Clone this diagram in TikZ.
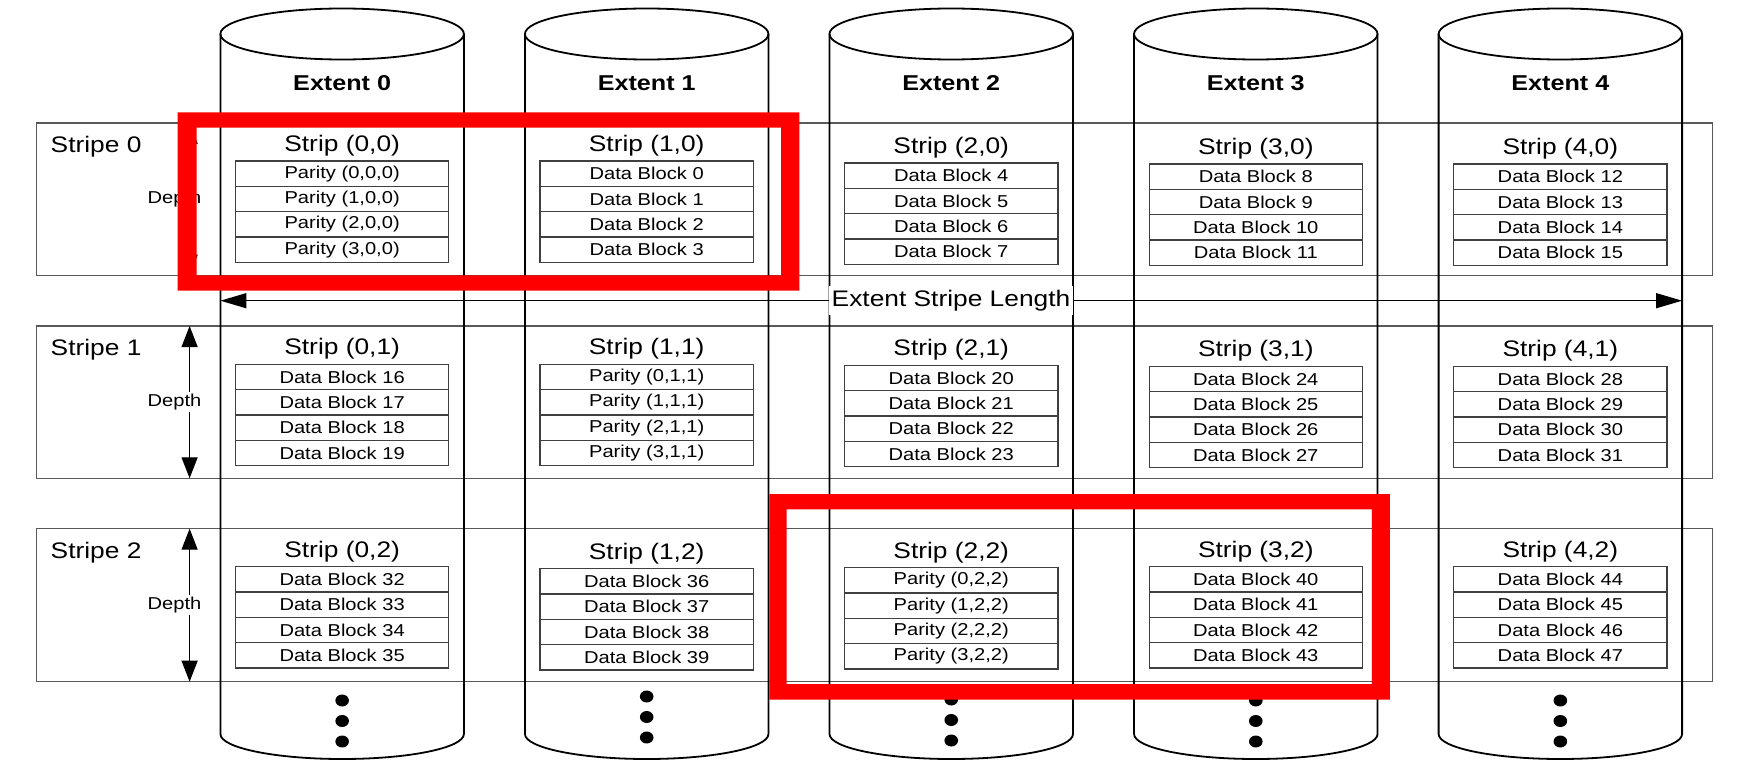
\documentclass[tikz,border=0pt]{standalone}
\usepackage{fontspec}
\setmainfont{Liberation Sans}[FakeStretch=1.17]
\usetikzlibrary{arrows.meta}
\newcommand\DrawStripeCells[3]{%
  \foreach \c/\d in {#3} {%
    \pgfmathsetmacro\cx{342.15+304.55*\c}%
    \pgfmathsetmacro\ty{#2+\d}%
    \node[striplbl] (strip\c-#1) at (\cx,\ty-15.2) {Strip (\c,#1)};
    \foreach \r in {0,...,3} {%
      \pgfmathtruncatemacro\n{16*#1+4*(\c-(\c>#1))+\r}%
      \node[blk] (b\c-#1-\r) at (\cx,\ty+25.35*\r)
        {\ifnum\c=#1 Parity (\r,\c,#1)\else Data Block \n\fi};
    }
  }
}
\begin{document}
\begin{tikzpicture}[x=1pt,y=-1pt,
  cyl/.style={draw=black, line width=1.8pt},
  stripebox/.style={draw=black!65, line width=1.4pt},
  blk/.style={draw=black!75, line width=1.4pt, fill=white, minimum width=213.2pt,
    minimum height=25.35pt, inner sep=0pt, outer sep=0pt, anchor=north,
    font=\fontsize{17.2}{18}\selectfont},
  striplbl/.style={font=\fontsize{22.5}{24}\selectfont, inner sep=0pt},
  extlbl/.style={font=\bfseries\fontsize{21.5}{23}\selectfont, inner sep=0pt},
  depthlbl/.style={font=\fontsize{17.2}{18}\selectfont, fill=white, inner xsep=1pt,
    inner ysep=2pt, anchor=east},
  deptharrow/.style={line width=1.3pt,
    {Triangle[length=21pt,width=16pt]}-{Triangle[length=21pt,width=16pt]}},
  eslarrow/.style={line width=1.3pt,
    {Triangle[length=26pt,width=15pt]}-{Triangle[length=26pt,width=15pt]}},
  redframe/.style={fill=red, even odd rule}
]
\useasboundingbox (0,0) rectangle (1741,765);
\fill[white] (0,0) rectangle (1741,765);

% stripe boxes
\foreach \s/\t/\b in {0/123/275.7, 1/326/478.3, 2/528.7/681.7} {
  \draw[stripebox] (36.7,\t) rectangle (1712.6,\b);
  \coordinate (dt\s) at (189.6,\t);
  \coordinate (db\s) at (189.6,\b);
}

% cylinders
\foreach \i in {0,...,4} {
  \pgfmathsetmacro\cx{342.15+304.55*\i}
  \pgfmathsetmacro\L{\cx-121.75}
  \pgfmathsetmacro\R{\cx+121.75}
  \draw[cyl] (\L,34) -- (\L,734) arc[start angle=180,end angle=360,x radius=121.75pt,y radius=25pt] -- (\R,34);
  \draw[cyl] (\cx,34) ellipse[x radius=121.75pt,y radius=25.5pt];
  \node[extlbl] (ext\i) at (\cx,83) {Extent \i};
  \coordinate (cylL\i) at (\L,300.7);
  \coordinate (cylR\i) at (\R,300.7);
}

% strips and blocks
\DrawStripeCells{0}{161}{0/0,1/0,2/2,3/3,4/3}
\DrawStripeCells{1}{364.3}{0/0,1/0,2/1,3/2,4/2}
\DrawStripeCells{2}{566.7}{0/0,1/2,2/1,3/0,4/0}

% stripe labels, depth arrows
\foreach \s/\yl/\ym in {0/146.7/199.4, 1/350/402.2, 2/553/605.2} {
  \node[striplbl, anchor=west] (stripe\s) at (50.5,\yl) {Stripe \s};
  \draw[deptharrow] (dt\s) -- (db\s);
  \node[depthlbl] (depth\s) at (202.5,\ym) {Depth};
}

% extent stripe length
\draw[eslarrow] (cylL0) -- (cylR4);
\node[fill=white, font=\fontsize{22.5}{24}\selectfont, inner xsep=3pt, inner ysep=4pt] (esl) at (951,300.7) {Extent Stripe Length};

% continuation dots
\foreach \c/\dy in {0/0,1/-4,2/-1,3/0,4/0} {
  \pgfmathsetmacro\cx{342.15+304.55*\c}
  \foreach \k in {0,1,2} {
    \fill (\cx,700.5+\dy+20.5*\k) ellipse[x radius=6.8pt,y radius=6pt];
  }
}

% red highlight frames
\fill[redframe] (177.7,112.3) rectangle (799.3,290.7) (196.5,127.7) rectangle (781,275.3);
\fill[redframe] (769.3,494) rectangle (1389.9,699.7) (786.7,509.3) rectangle (1371.9,684);
\end{tikzpicture}
\end{document}
